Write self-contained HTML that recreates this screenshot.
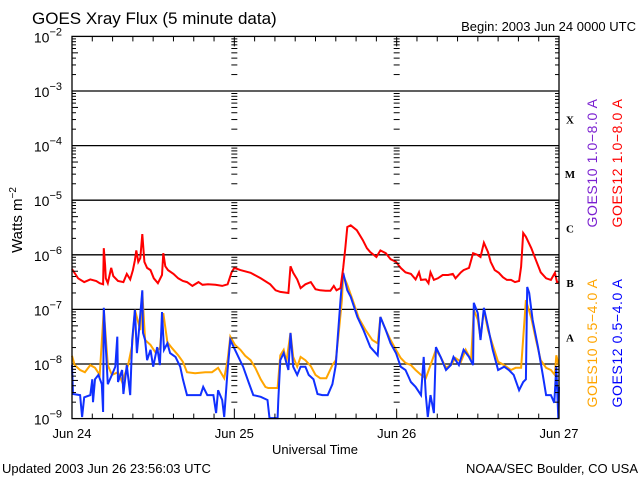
<!DOCTYPE html>
<html><head><meta charset="utf-8"><style>
body{margin:0;background:#fff;}
svg{display:block;font-family:"Liberation Sans",sans-serif;}
</style></head><body>
<svg id="chart" width="640" height="480" viewBox="0 0 640 480" xmlns="http://www.w3.org/2000/svg">
<rect width="640" height="480" fill="#fff"/>
<text x="32" y="24" font-size="17" fill="#000">GOES Xray Flux (5 minute data)</text>
<text x="636" y="31" font-size="13" fill="#000" text-anchor="end">Begin:  2003 Jun 24 0000 UTC</text>
<text transform="translate(22,220) rotate(-90)" font-size="15" text-anchor="middle" fill="#000">Watts m<tspan font-size="10" dy="-6">−2</tspan></text>
<text x="315" y="454" font-size="13" text-anchor="middle" fill="#000">Universal Time</text>
<text x="2" y="473" font-size="13" fill="#000">Updated 2003 Jun 26 23:56:03 UTC</text>
<text x="638" y="473" font-size="13" text-anchor="end" fill="#000">NOAA/SEC Boulder, CO USA</text>
<g id="grid"></g><g id="series"></g><g id="axes"></g><g id="labels"></g>
<g font-size="14" font-family="Liberation Sans, sans-serif" letter-spacing="0.6">
<text transform="translate(597,163) rotate(-90)" text-anchor="middle" fill="#7a1fd0">GOES10 1.0−8.0 A</text>
<text transform="translate(622,163) rotate(-90)" text-anchor="middle" fill="#ff0000">GOES12 1.0−8.0 A</text>
<text transform="translate(597,343) rotate(-90)" text-anchor="middle" fill="#ffa500">GOES10 0.5−4.0 A</text>
<text transform="translate(622,343) rotate(-90)" text-anchor="middle" fill="#0000ff">GOES12 0.5−4.0 A</text>
</g>
</svg>
<script>
// hours since 2003 Jun 24 00:00 and log10 flux (W m^-2)
const redH=[0,0.9,1.8,2.7,3.6,4.1,4.6,4.7,4.9,5.0,5.3,5.8,6.1,6.8,7.6,8.1,8.6,9.0,9.3,9.5,9.8,10.1,10.4,10.7,11.1,11.6,12.1,12.7,13.3,13.5,13.8,14.2,15.0,15.7,16.4,17.0,17.8,18.7,19.3,20.1,21.2,22.2,23.0,23.6,24.0,24.9,26.4,27.9,29.3,30.1,30.8,32.0,32.3,32.7,33.3,33.8,34.5,35.3,36.0,36.7,37.5,38.2,38.7,39.1,39.7,40.1,40.4,40.7,41.2,42.1,43.0,43.6,44.1,45.0,45.6,46.4,47.1,47.9,48.6,49.3,50.1,50.8,51.3,51.6,52.3,52.7,53.0,53.5,54.1,54.8,55.6,56.3,56.7,57.5,57.9,58.7,59.3,59.9,60.4,60.9,61.5,61.9,62.5,63.1,63.7,64.3,64.9,65.5,66.1,66.4,66.7,67.1,67.9,68.6,69.3,70.1,70.8,71.4,71.7,72.0];
const redL=[-6.26,-6.43,-6.50,-6.45,-6.48,-6.52,-6.54,-5.88,-6.19,-6.43,-6.52,-6.24,-6.39,-6.48,-6.50,-6.35,-6.45,-6.28,-6.10,-5.92,-6.13,-6.06,-5.62,-6.13,-6.24,-6.28,-6.43,-6.52,-6.37,-5.97,-6.21,-6.28,-6.35,-6.43,-6.48,-6.50,-6.57,-6.50,-6.55,-6.54,-6.55,-6.57,-6.54,-6.32,-6.24,-6.28,-6.33,-6.43,-6.54,-6.65,-6.68,-6.70,-6.21,-6.33,-6.45,-6.61,-6.54,-6.50,-6.63,-6.65,-6.66,-6.66,-6.57,-6.65,-6.61,-6.24,-5.88,-5.49,-5.46,-5.55,-5.73,-5.88,-5.95,-6.04,-5.92,-5.97,-6.08,-6.13,-6.24,-6.32,-6.35,-6.45,-6.32,-6.46,-6.45,-6.52,-6.32,-6.46,-6.43,-6.37,-6.37,-6.35,-6.43,-6.32,-6.28,-6.24,-5.97,-6.00,-6.04,-5.78,-5.95,-6.13,-6.28,-6.33,-6.41,-6.46,-6.46,-6.50,-6.48,-6.22,-5.60,-5.67,-5.88,-6.10,-6.32,-6.43,-6.46,-6.33,-6.50,-6.50];
const blueH=[0,0.15,1.2,1.5,1.8,2.7,3.0,3.1,3.4,3.9,4.4,4.6,4.7,5.0,5.3,5.9,6.4,6.7,6.8,7.4,7.6,8.1,8.6,8.9,9.3,9.6,9.9,10.4,10.5,10.8,11.1,11.6,12.0,12.6,13.0,13.3,13.6,14.1,14.5,15.3,16.0,16.4,17.0,17.9,19.0,19.4,20.0,20.9,21.3,21.6,22.2,22.5,23.0,23.4,23.9,24.6,25.3,26.1,26.8,27.9,28.9,29.2,30.4,30.5,30.8,31.3,32.0,32.3,32.7,33.3,33.8,34.5,35.0,35.7,36.3,37.0,37.8,38.5,39.0,39.3,39.7,40.0,40.1,40.7,41.2,42.2,43.1,44.1,45.2,45.6,46.4,47.1,47.9,48.6,49.3,50.1,50.8,51.6,52.0,52.3,52.6,53.0,53.5,53.8,54.5,55.3,56.0,56.4,57.2,57.9,58.7,59.3,59.4,60.0,60.4,60.9,61.5,62.2,63.0,63.9,64.6,65.3,66.1,66.7,67.1,67.3,67.6,68.1,68.9,69.6,70.1,70.8,71.3,71.6,71.9,72.0];
const blueL=[-8.02,-8.55,-8.57,-8.97,-8.61,-8.57,-8.28,-8.70,-8.28,-8.20,-8.37,-8.88,-6.97,-7.69,-8.37,-8.20,-8.05,-7.50,-8.33,-8.11,-8.55,-8.02,-8.57,-7.56,-7.01,-7.80,-7.38,-6.65,-7.43,-7.56,-7.93,-7.74,-8.05,-7.69,-8.02,-7.05,-7.74,-7.62,-7.80,-7.87,-8.05,-8.28,-8.57,-8.57,-8.57,-8.42,-8.57,-8.57,-8.90,-8.48,-8.66,-8.97,-8.11,-7.56,-7.69,-7.87,-8.05,-8.33,-8.57,-8.60,-8.66,-8.99,-8.99,-8.66,-7.93,-7.80,-8.11,-7.43,-8.05,-8.20,-8.05,-8.05,-8.20,-8.28,-8.55,-8.57,-8.57,-8.37,-8.02,-7.50,-6.83,-6.37,-6.33,-6.65,-6.77,-7.14,-7.38,-7.69,-7.84,-7.14,-7.38,-7.62,-7.80,-8.05,-8.11,-8.33,-8.42,-8.57,-7.87,-8.57,-8.97,-8.57,-8.90,-7.69,-7.87,-8.11,-8.02,-7.87,-8.02,-7.74,-7.87,-8.02,-6.88,-7.07,-7.56,-6.97,-7.32,-7.74,-8.11,-8.05,-8.11,-8.20,-8.48,-8.33,-8.28,-6.59,-6.70,-7.19,-7.69,-8.20,-8.57,-8.57,-8.71,-8.05,-8.99,-8.42];
const orangeH=[0,0.4,1.2,1.9,2.7,3.4,4.1,4.7,5.3,5.9,6.8,7.4,8.3,8.9,9.3,10.1,10.4,10.8,11.6,12.3,13.0,13.5,14.1,14.8,15.7,16.4,17.0,18.2,19.7,20.7,21.6,22.5,23.0,23.4,24.1,24.9,25.6,26.4,27.1,27.9,28.6,29.0,30.4,30.8,31.3,31.7,32.3,32.7,33.3,33.8,34.5,35.3,36.0,36.7,37.6,38.5,39.0,39.4,39.9,40.1,40.7,41.5,42.4,43.4,44.4,45.2,45.6,46.4,47.1,47.9,48.6,49.3,50.1,50.8,51.6,52.3,53.0,53.8,54.5,55.3,56.0,56.7,57.5,58.2,59.0,59.4,60.0,60.4,60.9,61.5,62.2,63.0,63.9,64.9,65.6,66.4,67.1,67.9,68.6,69.3,70.1,70.8,71.4,71.6,72.0];
const orangeL=[-7.85,-8.02,-8.11,-8.15,-8.02,-8.07,-8.20,-7.01,-8.02,-8.20,-8.15,-8.33,-8.02,-7.65,-7.01,-7.38,-6.68,-7.56,-7.65,-7.78,-7.71,-7.07,-7.60,-7.71,-7.84,-7.96,-8.15,-8.17,-8.15,-8.15,-8.07,-8.26,-7.93,-7.50,-7.65,-7.74,-7.85,-7.93,-8.07,-8.28,-8.42,-8.44,-8.44,-7.84,-7.74,-7.96,-7.43,-7.87,-8.05,-7.87,-7.93,-8.04,-8.20,-8.26,-8.26,-8.02,-7.93,-7.47,-6.83,-6.37,-6.55,-6.83,-7.16,-7.38,-7.56,-7.62,-7.14,-7.38,-7.56,-7.74,-7.89,-7.98,-8.02,-8.11,-8.20,-8.26,-8.02,-7.74,-7.87,-8.07,-8.02,-7.89,-7.96,-7.74,-7.93,-7.01,-7.19,-7.52,-7.01,-7.38,-7.65,-7.96,-8.02,-8.11,-8.07,-8.07,-6.83,-7.16,-7.56,-7.93,-8.07,-8.11,-8.20,-7.84,-8.04];
const decadeExps=[-2,-3,-4,-5,-6,-7,-8,-9];
const dayLabels=["Jun 24","Jun 25","Jun 26","Jun 27"];
const classLetters=["X","M","C","B","A"];

const NS="http://www.w3.org/2000/svg";
const X0=72,X1=559,Y0=36.4,Y1=418.6,HOURS=72;
const xs=h=>X0+h*(X1-X0)/HOURS;
const ys=l=>Math.min(Y1,Y1-(l+9)*(Y1-Y0)/7);
function mk(tag,attrs,parent){const e=document.createElementNS(NS,tag);for(const k in attrs)e.setAttribute(k,attrs[k]);parent.appendChild(e);return e;}
const grid=document.getElementById('grid'),axes=document.getElementById('axes'),series=document.getElementById('series'),labels=document.getElementById('labels');

decadeExps.forEach(p=>{
  const y=ys(p);
  if(p>-9&&p<-2){const l=mk('line',{x1:X0,x2:X1,y1:y,y2:y,stroke:'#000','stroke-width':1.3},grid);
  
  }
  const t=mk('text',{x:62,y:y+6,'font-size':14,'text-anchor':'end',fill:'#000'},labels);
  
  
  t.textContent='10';
  const s=mk('tspan',{dy:-7,'font-size':11},t);s.textContent='−'+(-p);
  if(p>-9){for(let m=2;m<=9;m++){const yy=ys(p-1+Math.log10(m));
    [X0,xs(24),xs(48)].forEach((xx,i)=>{const len=m==5?6:4;
      mk('line',{x1:i?xx-3:xx,x2:xx+(i?3:len),y1:yy,y2:yy,stroke:'#000','stroke-width':1},axes);});
    mk('line',{x1:X1-4,x2:X1,y1:yy,y2:yy,stroke:'#000','stroke-width':1},axes);}}
});
classLetters.forEach((c,i)=>{const t=mk('text',{x:570,y:ys(-3.5-i)+5,'font-size':11,'font-weight':'bold','font-family':'Liberation Serif, serif','text-anchor':'middle',fill:'#000'},labels);
  
  
  t.textContent=c;});
const fr=mk('rect',{x:X0,y:Y0,width:X1-X0,height:Y1-Y0,fill:'none',stroke:'#000','stroke-width':1.3},axes);


for(let h=0;h<=HOURS;h+=3){const x=xs(h),len=h%24==0?10:5;
  mk('line',{x1:x,x2:x,y1:Y1,y2:Y1-len,stroke:'#000'},axes);
  mk('line',{x1:x,x2:x,y1:Y0,y2:Y0+len,stroke:'#000'},axes);}
dayLabels.forEach((d,i)=>{const t=mk('text',{x:xs(i*24),y:438,'font-size':13,'text-anchor':'middle',fill:'#000'},labels);
  
  
  t.textContent=d;});
function draw(H,L,color,name,w){const pts=H.map((h,i)=>xs(h).toFixed(1)+','+ys(L[i]).toFixed(1)).join(' ');
  const p=mk('polyline',{points:pts,fill:'none',stroke:color,'stroke-width':w},series);
  
  }
draw(orangeH,orangeL,'#ffa500','goes10-short-line',2);
draw(blueH,blueL,'#1030ff','goes12-short-line',2);
draw(redH,redL,'#ff0000','goes12-long-line',2);
</script>
</body></html>
